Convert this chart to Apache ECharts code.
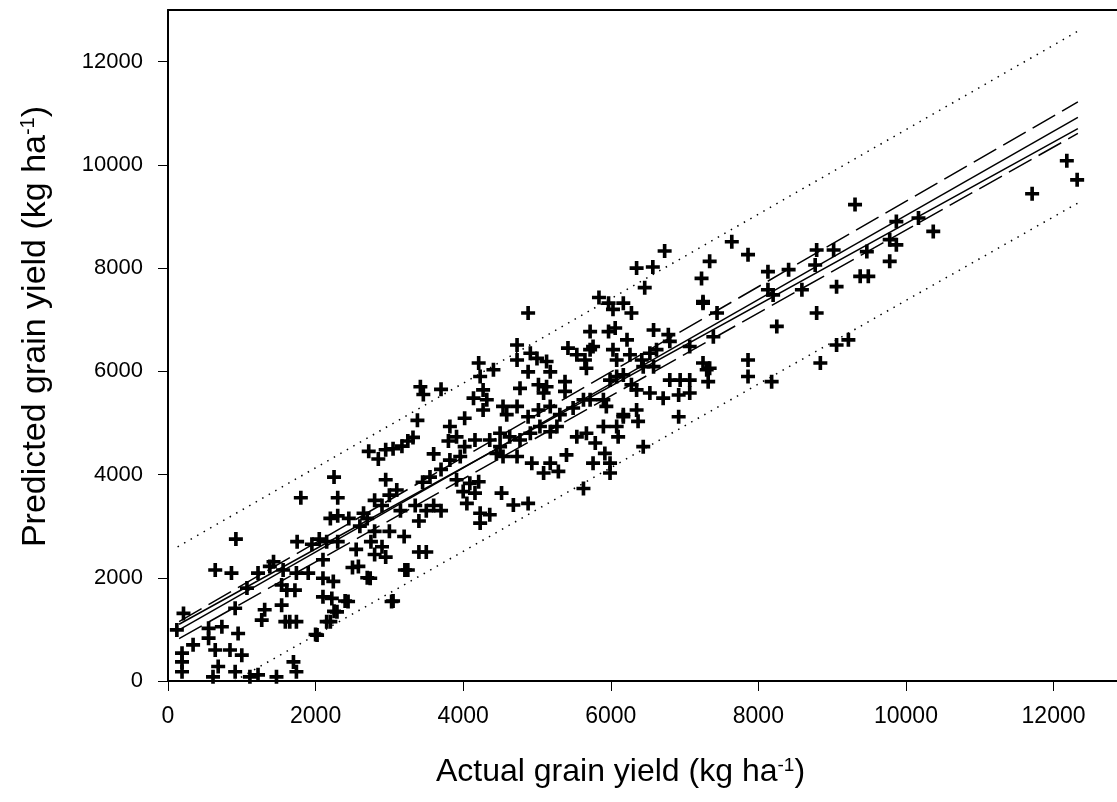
<!DOCTYPE html>
<html>
<head>
<meta charset="utf-8">
<title>Predicted vs actual grain yield</title>
<script src="https://cdn.jsdelivr.net/npm/echarts@6/dist/echarts.min.js"></script>
<style>
  html, body { margin: 0; padding: 0; background: #fff; }
  #chart { width: 1117px; height: 802px; }
</style>
</head>
<body>
<div id="chart"></div>
<script>
// tick labels
const xTicks = [0, 2000, 4000, 6000, 8000, 10000, 12000];
const yTicks = [0, 2000, 4000, 6000, 8000, 10000, 12000];

const pointsLow = [
  [640,2150],[860,2090],[1220,2090],[1380,2220],[1430,2310],[1560,2150],[1740,2090],[1900,2090],[2100,2350],[2580,2220],[2740,1990],[3210,2150],
  [1070,1800],[1540,1860],[1610,1760],[1720,1760],[2100,1990],[2240,1930],
  [210,1310],[910,1410],[1310,1380],[1540,1470],[2100,1630],[2220,1600],[2290,1340],[2440,1540],[3030,1540],
  [120,990],[550,1020],[730,1050],[950,920],[1270,1180],[1590,1150],[1650,1150],[1740,1150],[2150,1150],[2020,890],
  [340,700],[550,830],[640,600],[840,600],[1000,500],
  [190,540],[190,370],[190,180],[680,280],[610,80],[910,180],[1110,80],[1220,120],[1470,80],[1700,370],[1740,180],
  [920,2750]
];

const pointsLeft = [
  [3420,5700],[3460,5550],[3700,5650],[3250,4650],[3320,4720],[3170,4550],[2950,4480],[3050,4500],[3380,5050],[2720,4450],
  [2850,4300],[2950,3900],[3000,3600],[3100,3700],[2800,3500],[2900,3400],[3150,3300],[2650,3250],[2450,3150],[2300,3200],
  [2200,3150],[2300,3550],[2250,3950],[1800,3550],[2050,2750],[2150,2700],[1950,2650],[1750,2700],[2300,2700],[2700,3150],
  [2600,3000],[2800,2900],[2900,2600],[2550,2550],[2800,2450],[2950,2400],[3000,2900],[3200,2800],[3350,3400],[3400,3100],
  [3500,3300],[3500,2500],[3400,2500],[3450,3850],[3550,3950],[3700,4100],[3600,4400],[3800,4650],[3250,2150],[3050,1550],
  [2700,2000],[2500,2200],[2400,1550],[2250,1350],[2000,900],[2200,1150],[2750,2700],[3600,3400],[3700,3300]
];

const pointsMid = [
  [4880,7130],[5970,7320],[6170,7320],[6280,7130],[5720,6770],[5970,6770],[6060,6840],[6220,6610],[6580,6800],[6780,6710],[6800,6580],[7250,7320],[7440,7130],
  [4730,6510],[4730,6220],[4910,6350],[5000,6250],[4880,5990],[5130,6190],[5180,5990],[5420,6450],[5540,6320],[5650,6220],[5720,6420],[5760,6480],[5670,6060],[4210,6160],[4410,6030],[4230,5900],
  [6030,6420],[6080,6220],[6260,6320],[6420,6220],[6530,6350],[6620,6420],[6440,6090],[6580,6090],[7070,6480],[7390,6670],
  [4270,5640],[4140,5480],[4320,5450],[4770,5670],[5020,5740],[5090,5580],[5130,5700],[5380,5800],[5380,5610],[5990,5830],[6080,5900],[6170,5930],[6280,5740],[6350,5640],[6530,5580],[6710,5480],[6800,5830],[6940,5830],[7070,5830],[6920,5540],[7070,5580],[7250,6160],[7300,6030],[7320,5800],[7860,6220],[7860,5900],
  [4020,5090],[4270,5250],[4540,5320],[4590,5160],[4730,5320],[4880,5120],[5020,5250],[5180,5320],[5310,5160],[5490,5290],[5630,5450],[5720,5450],[5900,5450],[5940,5320],[6170,5120],[6350,5250],[6370,5030],[6920,5120],
  [3820,4930],[3910,4730],[4020,4540],[4160,4670],[4360,4670],[4500,4800],[4500,4540],[4630,4730],[4770,4670],[4910,4800],[5040,4930],[5180,4830],[5270,4930],[5540,4730],[5670,4800],[5790,4610],[5900,4930],[6080,4930],[6100,4730],[6170,5160],
  [3820,4280],[3960,4350],[4450,4410],[4540,4350],[4730,4350],[4930,4220],[5090,4030],[5180,4220],[5290,4060],[5400,4380],[5760,4220],[5920,4410],[5990,4220],[5990,4030],[6440,4540],
  [3910,3900],[4090,3830],[4210,3860],[4000,3670],[4160,3640],[4520,3640],[5630,3730],[4680,3410],[4880,3440],[4050,3440],[4230,3250],[4360,3220],[4230,3060],
  [6730,8330],[6570,8020],[6350,8000],[6460,7620],[5840,7430],[6030,7200]
];

const pointsHigh = [
  [9310,9230],[7640,8510],[7860,8260],[7340,8130],[7230,7800],[7250,7350],[8130,7930],[8410,7970],[8130,7580],[8200,7480],
  [8790,8350],[9020,8350],[8770,8060],[8590,7580],[9470,8320],[9870,8900],[10170,8970],[10370,8710],[9780,8550],[9870,8450],
  [9780,8130],[9060,7640],[9380,7840],[9490,7840],[8790,7130],[8250,6870],[7340,6060],[8180,5800],[8840,6160],[9060,6510],
  [9220,6610],[11710,9440],[12180,10080],[12320,9710]
];

// fitted lines and bands
const fitLine = [[150, 990], [12330, 10920]];
const altLine = [[150, 1100], [12330, 10700]];
const ciUpper = [[150, 1150], [12330, 11220]];
const ciLower = [[150, 820], [12330, 10610]];
const piUpper = [[130, 2600], [12330, 12590]];
const piLower = [[900, 0], [12330, 9260]];

const font = 'Arial, "Liberation Sans", sans-serif';
const plus = 'path://M3.7,0H6.3V3.7H10V6.3H6.3V10H3.7V6.3H0V3.7H3.7Z';

function lineSeries(data, type, width) {
  return {
    type: 'line',
    data: data,
    showSymbol: false,
    silent: true,
    z: 3,
    lineStyle: { color: '#000', width: width, type: type }
  };
}

function titleRich(size) {
  return {
    t: { fontFamily: font, fontSize: size, color: '#000' },
    s: { fontFamily: font, fontSize: Math.round(size * 0.58), color: '#000', verticalAlign: 'top', padding: [0, 0, Math.round(size * 0.45), 0] }
  };
}

const chart = echarts.init(document.getElementById('chart'));
const option = {
  animation: false,
  backgroundColor: '#fff',
  grid: { left: 168, top: 10, right: 0, bottom: 121, containLabel: false },
  xAxis: [{
    type: 'value', min: 0, max: 12860, interval: 2000,
    name: '{t|Actual grain yield (kg ha}{s|-1}{t|)}',
    nameLocation: 'middle', nameGap: 75,
    nameTextStyle: { padding: [0, 44, 0, 0], rich: titleRich(32) },
    splitLine: { show: false },
    axisLine: { lineStyle: { color: '#000', width: 2 } },
    axisTick: { length: 10, lineStyle: { color: '#000', width: 1 } },
    axisLabel: {
      color: '#000', fontFamily: font, fontSize: 23, margin: 24, showMaxLabel: false,
      formatter: v => xTicks.includes(v) ? String(v) : ''
    }
  }, {
    type: 'value', min: 0, max: 12860, position: 'top',
    splitLine: { show: false }, axisTick: { show: false }, axisLabel: { show: false },
    axisLine: { lineStyle: { color: '#000', width: 2 } }
  }],
  yAxis: {
    type: 'value', min: 0, max: 13000, interval: 2000,
    name: '{t|Predicted grain yield (kg ha}{s|-1}{t|)}',
    nameLocation: 'middle', nameGap: 115,
    nameTextStyle: { padding: [0, 0, 0, 38], rich: titleRich(34) },
    splitLine: { show: false },
    axisLine: { lineStyle: { color: '#000', width: 2 } },
    axisTick: { length: 10, lineStyle: { color: '#000', width: 1 } },
    axisLabel: {
      color: '#000', fontFamily: font, fontSize: 22, margin: 25, showMaxLabel: false,
      formatter: v => yTicks.includes(v) ? String(v) : ''
    }
  },
  series: [
    {
      type: 'scatter',
      data: pointsLow.concat(pointsLeft, pointsMid, pointsHigh),
      symbol: plus,
      symbolSize: 14,
      itemStyle: { color: '#000', opacity: 1 },
      z: 2
    },
    lineSeries(fitLine, 'solid', 1.5),
    lineSeries(altLine, 'solid', 1.5),
    lineSeries(ciUpper, [26, 8], 1.5),
    lineSeries(ciLower, [26, 8], 1.5),
    lineSeries(piUpper, [1.5, 6], 1.5),
    lineSeries(piLower, [1.5, 6], 1.5)
  ]
};
chart.setOption(option);
</script>
</body>
</html>
